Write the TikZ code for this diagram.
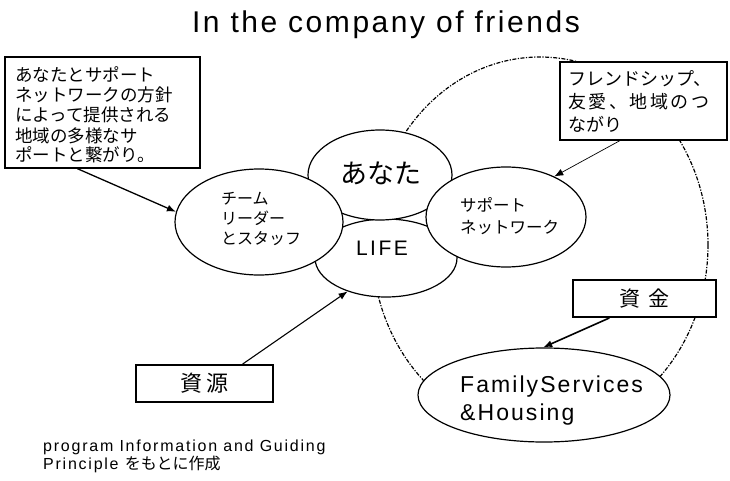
\documentclass[tikz,border=0pt]{standalone}
\usepackage{fontspec}
\setmainfont{Liberation Sans}
\newfontfamily\jp{Noto Sans CJK JP}
\usetikzlibrary{shapes.geometric,arrows.meta}
\begin{document}
\begin{tikzpicture}[x=1pt,y=-1pt,
  ell/.style={draw, ellipse, fill=white, line width=1.2pt, inner sep=0pt},
  tbox/.style={draw, fill=white, rectangle, inner sep=0pt},
  arr/.style={-{Latex[length=9pt,width=7pt]}},
  lbl/.style={anchor=base west, inner sep=0pt, align=left},
  dashring/.style={line width=1.2pt, dash pattern=on 4pt off 1.5pt on 1.2pt off 1.5pt}]
\fill[white] (0,0) rectangle (730,481);
\useasboundingbox (0,0) rectangle (730,481);

% title
\node[anchor=base, inner sep=0pt] (title) at (386,33)
  {\fontsize{30}{34}\selectfont\addfontfeature{LetterSpace=8.5}In the company of friends};

% dashed ring
\draw[dashring] (540,245) ellipse [x radius=168, y radius=188];

% ellipses
\node[ell, minimum width=142pt, minimum height=78pt] (life) at (386,258) {};
\node[ell, minimum width=144pt, minimum height=90pt] (anata) at (380,175) {};
\node[ell, minimum width=168pt, minimum height=106pt] (team) at (259,222) {};
\node[ell, minimum width=160pt, minimum height=100pt] (supp) at (506,217) {};
\node[ell, minimum width=252pt, minimum height=94pt] (fs) at (544,395) {};

% boxes
\node[tbox, line width=1.4pt, minimum width=195pt, minimum height=111pt] (lbox) at (102.5,112.5) {};
\node[tbox, line width=1.6pt, minimum width=167pt, minimum height=78pt] (rbox) at (643.5,101) {};
\node[tbox, line width=2pt, minimum width=143pt, minimum height=37pt] (fbox) at (644.5,298.5) {};
\node[tbox, line width=1.8pt, minimum width=137pt, minimum height=37pt] (sbox) at (204.5,383.5) {};

% arrows
\draw[arr, line width=1.3pt] (lbox.246) -- (team.173);
\draw[arr, line width=0.7pt] (rbox.239) -- (supp.40);
\draw[arr, line width=1.6pt] (fbox.209.6) -- (fs.91);
\draw[arr, line width=1.1pt] (sbox.27.5) -- (life.221);

% texts (base anchor = baseline of the last line)
\node[lbl, font=\jp\fontsize{17.5}{20}\selectfont] (lboxtext) at (15,162)
  {あなたとサポート\\ネットワークの方針\\によって提供される\\地域の多様なサ\\ポートと繋がり。};
\node[lbl, font=\jp\fontsize{18}{23}\selectfont] (rboxtext) at (568,132)
  {フレンドシップ、\\{\addfontfeature{LetterSpace=14}友愛、地域のつ}\\ながり};
\node[inner sep=0pt, font=\jp\fontsize{21}{24}\selectfont] (fboxtext) at (fbox.center)
  {\addfontfeature{LetterSpace=38}資金\hspace{-8pt}};
\node[inner sep=0pt, font=\jp\fontsize{22}{24}\selectfont] (sboxtext) at (sbox.center)
  {\addfontfeature{LetterSpace=18}資源\hspace{-4pt}};
\node[inner sep=0pt, font=\jp\fontsize{27}{30}\selectfont] (anatatext) at (381,173) {あなた};
\node[inner sep=0pt, font=\fontsize{21}{24}\selectfont] (lifetext) at (382,248)
  {\addfontfeature{LetterSpace=12}LIFE\hspace{-2.5pt}};
\node[lbl, font=\jp\fontsize{16}{20}\selectfont] (teamtext) at (221,244)
  {チーム\\リーダー\\とスタッフ};
\node[lbl, font=\jp\fontsize{16.5}{22}\selectfont] (supptext) at (460,233)
  {サポート\\ネットワーク};
\node[lbl, font=\fontsize{23}{28}\selectfont] (fstext) at (460,420)
  {\addfontfeature{LetterSpace=9}FamilyServices\\\addfontfeature{LetterSpace=9}\&Housing};
\node[lbl, font=\fontsize{16}{16}\selectfont] (srctext) at (43,469)
  {\addfontfeature{LetterSpace=11}program Information and Guiding\\\addfontfeature{LetterSpace=11}Principle {\jp をもとに作成}};
\end{tikzpicture}
\end{document}
